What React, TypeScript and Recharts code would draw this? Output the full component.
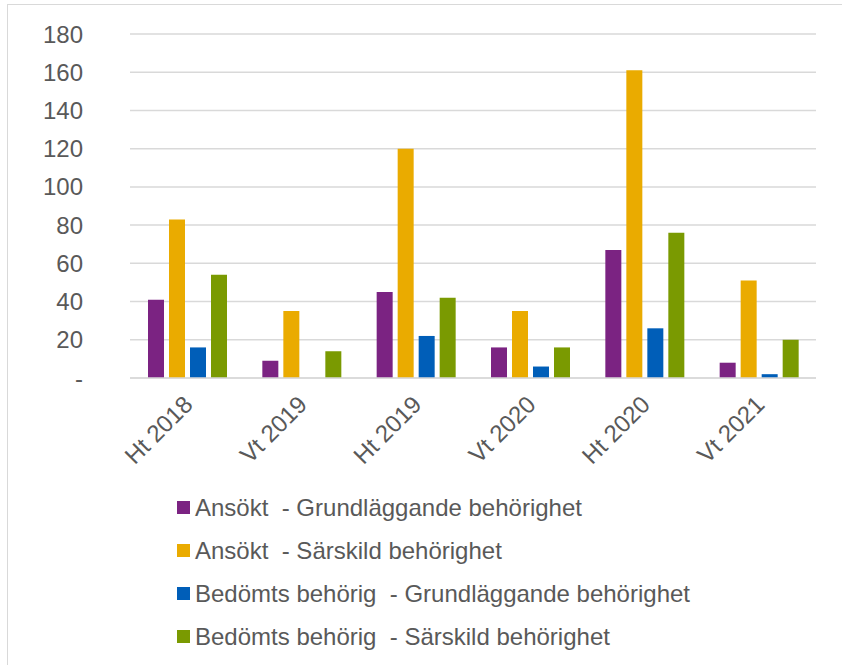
import React from 'react';
import { BarChart, Bar, XAxis, YAxis, CartesianGrid, Legend } from 'recharts';

const terms = ['Ht 2018', 'Vt 2019', 'Ht 2019', 'Vt 2020', 'Ht 2020', 'Vt 2021'];
const ansoktGrund = [41, 9, 45, 16, 67, 8];
const ansoktSarskild = [83, 35, 120, 35, 161, 51];
const bedomdGrund = [16, 0, 22, 6, 26, 2];
const bedomdSarskild = [54, 14, 42, 16, 76, 20];
const yTicks = [0, 20, 40, 60, 80, 100, 120, 140, 160, 180];

const series = [
    { key: 'ansoktGrund', name: 'Ansökt  - Grundläggande behörighet', color: '#7B2382' },
    { key: 'ansoktSarskild', name: 'Ansökt  - Särskild behörighet', color: '#EAAB00' },
    { key: 'bedomdGrund', name: 'Bedömts behörig  - Grundläggande behörighet', color: '#005EB8' },
    { key: 'bedomdSarskild', name: 'Bedömts behörig  - Särskild behörighet', color: '#7A9A01' },
];

const data = terms.map((term, i) => ({
    term,
    ansoktGrund: ansoktGrund[i],
    ansoktSarskild: ansoktSarskild[i],
    bedomdGrund: bedomdGrund[i],
    bedomdSarskild: bedomdSarskild[i],
}));

const FONT = '"Liberation Sans", Arial, sans-serif';
const TEXT = '#595959';

const XTick = ({ x, y, payload }: any) => (
    <g transform={`translate(${x + 7},${y + 20}) rotate(-45)`}>
        <text x={0} y={0} textAnchor="end" fill={TEXT} fontSize={24} fontFamily={FONT}>
            {payload.value}
        </text>
    </g>
);

const LegendBox = () => (
    <div style={{ height: 200, paddingLeft: 169, paddingTop: 25, boxSizing: 'border-box' }}>
        {series.map((s) => (
            <div
                key={s.key}
                style={{ display: 'flex', alignItems: 'center', height: 43, fontFamily: FONT, fontSize: 24, color: TEXT }}
            >
                <span style={{ width: 13, height: 13, background: s.color, marginRight: 5, display: 'inline-block' }} />
                <span style={{ whiteSpace: 'pre' }}>{s.name}</span>
            </div>
        ))}
    </div>
);

export default function App() {
    return (
        <div
            style={{
                position: 'absolute',
                left: 7,
                top: 4,
                width: 835,
                height: 661,
                borderLeft: '1px solid #d9d9d9',
                borderTop: '1px solid #d9d9d9',
                background: '#fff',
            }}
        >
            <BarChart
                width={834}
                height={656}
                data={data}
                margin={{ top: 29, right: 26, left: 0, bottom: 0 }}
                barSize={16}
                barGap={5}
            >
                <CartesianGrid vertical={false} stroke="#d9d9d9" strokeWidth={1.5} />
                <XAxis
                    dataKey="term"
                    height={83}
                    tick={<XTick />}
                    tickLine={false}
                    axisLine={{ stroke: '#d9d9d9', strokeWidth: 1.5 }}
                    interval={0}
                />
                <YAxis
                    width={122}
                    domain={[0, 180]}
                    ticks={yTicks}
                    axisLine={false}
                    tickLine={false}
                    tickSize={45}
                    tickMargin={2}
                    tickFormatter={(v) => (v === 0 ? '-' : String(v))}
                    tick={{ fill: TEXT, fontSize: 24, fontFamily: FONT }}
                />
                <Legend verticalAlign="bottom" align="left" content={<LegendBox />} />
                {series.map((s) => (
                    <Bar key={s.key} dataKey={s.key} name={s.name} fill={s.color} isAnimationActive={false} />
                ))}
            </BarChart>
        </div>
    );
}
